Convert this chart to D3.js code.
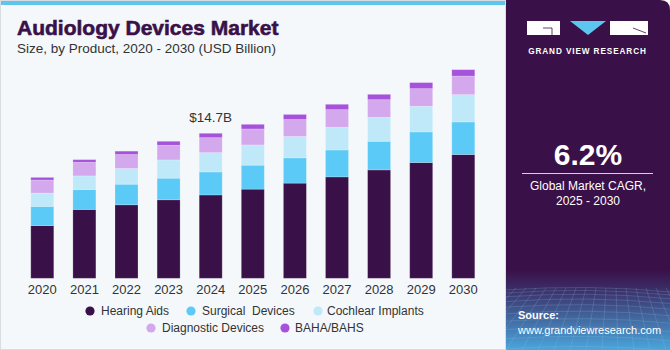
<!DOCTYPE html>
<html>
<head>
<meta charset="utf-8">
<script src="https://cdn.jsdelivr.net/npm/d3@7"></script>
<style>
  html, body { margin: 0; padding: 0; background: #fff; }
  svg { display: block; font-family: "Liberation Sans", Arial, sans-serif; }
</style>
</head>
<body>
<div id="chart"></div>
<script>
// data (USD Billion)
var years = ["2020", "2021", "2022", "2023", "2024", "2025", "2026", "2027", "2028", "2029", "2030"];
var hearingAids = [5.34, 6.98, 7.45, 7.96, 8.45, 9.04, 9.65, 10.28, 10.99, 11.74, 12.55];
var surgicalDevices = [1.95, 2.02, 2.09, 2.19, 2.33, 2.43, 2.56, 2.73, 2.90, 3.10, 3.30];
var cochlearImplants = [1.35, 1.38, 1.59, 1.85, 1.96, 2.05, 2.17, 2.30, 2.43, 2.60, 2.77];
var diagnosticDevices = [1.32, 1.38, 1.42, 1.49, 1.52, 1.62, 1.72, 1.79, 1.79, 1.79, 1.88];
var bahaBahs = [0.27, 0.27, 0.34, 0.40, 0.44, 0.47, 0.51, 0.54, 0.54, 0.61, 0.65];
var seriesNames = ["Hearing Aids", "Surgical  Devices", "Cochlear Implants", "Diagnostic Devices", "BAHA/BAHS"];
var seriesColors = ["#3a1048", "#5ccaf6", "#bfe9f9", "#d4a8ec", "#a652da"];
var annotation = {year: "2024", label: "$14.7B"};

var W = 670, H = 350;
var svg = d3.select("#chart").append("svg")
    .attr("width", W)
    .attr("height", H);

// panel backgrounds
svg.append("rect").attr("x", 0).attr("y", 0).attr("width", 506).attr("height", H).attr("fill", "#f4f8fb");
svg.append("rect").attr("x", 0).attr("y", 0).attr("width", 506).attr("height", 5).attr("fill", "#5cc6ee");
svg.append("rect").attr("x", 0.5).attr("y", 0.5).attr("width", 505).attr("height", H - 1)
    .attr("fill", "none").attr("stroke", "#d9dde2").attr("stroke-width", 1);

// right side panel
var defs = svg.append("defs");
var grad = defs.append("linearGradient").attr("id", "sideGrad")
    .attr("x1", 0).attr("y1", 0).attr("x2", 0).attr("y2", 1);
grad.append("stop").attr("offset", "0%").attr("stop-color", "#3a1048");
grad.append("stop").attr("offset", "77%").attr("stop-color", "#3a1048");
grad.append("stop").attr("offset", "82%").attr("stop-color", "#3b2a63");
grad.append("stop").attr("offset", "100%").attr("stop-color", "#4aa6dc");
var clip = defs.append("clipPath").attr("id", "sideClip");
clip.append("path").attr("d", "M506,0 H660 Q670,0 670,10 V350 H506 Z");

var side = svg.append("g").attr("clip-path", "url(#sideClip)");
side.append("rect").attr("x", 506).attr("y", 0).attr("width", 164).attr("height", H).attr("fill", "url(#sideGrad)");

// grid texture at bottom of side panel
var grid = side.append("g").attr("stroke", "#8fc6ee").attr("stroke-opacity", 0.35).attr("stroke-width", 0.6).attr("fill", "none");
d3.range(0, 12).forEach(function (i) {
    var y = 290 + i * i * 0.45 + i * 2.5;
    grid.append("path").attr("d", "M506," + y + " Q588," + (y - 6) + " 670," + (y + 2));
});
d3.range(-8, 20).forEach(function (i) {
    var xTop = 506 + i * 10;
    grid.append("path").attr("d", "M" + xTop + ",288 L" + (506 + (i - 4) * 16) + ",350");
});

// logo
var logo = svg.append("g");
logo.append("rect").attr("x", 527).attr("y", 21).attr("width", 33).attr("height", 14).attr("fill", "#fff");
logo.append("path").attr("d", "M543,28 H552 V35").attr("stroke", "#3a1048").attr("stroke-width", 0.8).attr("fill", "none");
logo.append("path").attr("d", "M570,21 L606,21 L588,35 Z").attr("fill", "#5cc6ee");
logo.append("rect").attr("x", 610).attr("y", 21).attr("width", 38).attr("height", 14).attr("fill", "#fff");
logo.append("path").attr("d", "M633,28 L646,33").attr("stroke", "#3a1048").attr("stroke-width", 0.8);
logo.append("text").attr("x", 587.5).attr("y", 54).attr("text-anchor", "middle")
    .attr("fill", "#fff").attr("font-size", 8.2).attr("font-weight", "bold")
    .attr("letter-spacing", 0.9).text("GRAND VIEW RESEARCH");

// CAGR block
svg.append("text").attr("x", 588).attr("y", 165).attr("text-anchor", "middle")
    .attr("fill", "#fff").attr("font-size", 30).attr("font-weight", "bold").text("6.2%");
svg.append("line").attr("x1", 522).attr("x2", 653).attr("y1", 173.5).attr("y2", 173.5)
    .attr("stroke", "#d8cfe0").attr("stroke-width", 1);
svg.append("text").attr("x", 588).attr("y", 190).attr("text-anchor", "middle")
    .attr("fill", "#fff").attr("font-size", 12).text("Global Market CAGR,");
svg.append("text").attr("x", 588).attr("y", 205).attr("text-anchor", "middle")
    .attr("fill", "#fff").attr("font-size", 12).text("2025 - 2030");

// source
svg.append("text").attr("x", 518).attr("y", 319).attr("fill", "#fff")
    .attr("font-size", 11).attr("font-weight", "bold").text("Source:");
svg.append("text").attr("x", 518).attr("y", 334).attr("fill", "#fff")
    .attr("font-size", 11).text("www.grandviewresearch.com");

// titles
svg.append("text").attr("x", 17).attr("y", 35).attr("fill", "#3a1048")
    .attr("stroke", "#3a1048").attr("stroke-width", 0.6)
    .attr("font-size", 21).attr("font-weight", "bold").text("Audiology Devices Market");
svg.append("text").attr("x", 17).attr("y", 53).attr("fill", "#333")
    .attr("font-size", 13.5).text("Size, by Product, 2020 - 2030 (USD Billion)");

// scales
var x = d3.scaleBand()
    .domain(years)
    .range([30.8, 474.8])
    .paddingInner(0.454)
    .paddingOuter(0);

var y = d3.scaleLinear()
    .domain([0, 20])
    .range([278.3, 278.3 - 20 * 9.864]);

var seriesData = [hearingAids, surgicalDevices, cochlearImplants, diagnosticDevices, bahaBahs];
var table = years.map(function (yr, i) {
    var row = {year: yr};
    seriesNames.forEach(function (name, s) { row[name] = seriesData[s][i]; });
    return row;
});

var stack = d3.stack().keys(seriesNames);
var stacked = stack(table);

var plot = svg.append("g");
plot.selectAll("g.layer")
    .data(stacked)
    .enter().append("g")
    .attr("class", "layer")
    .attr("fill", function (d, i) { return seriesColors[i]; })
    .selectAll("rect")
    .data(function (d) { return d; })
    .enter().append("rect")
    .attr("x", function (d) { return x(d.data.year); })
    .attr("width", x.bandwidth())
    .attr("y", function (d) { return y(d[1]); })
    .attr("height", function (d) { return y(d[0]) - y(d[1]); })
    .attr("stroke", "#ffffff")
    .attr("stroke-opacity", 0.25)
    .attr("stroke-width", 0.8);

// x axis labels
var xAxis = d3.axisBottom(x).tickSize(0).tickPadding(6);
var ax = svg.append("g").attr("transform", "translate(0," + 278.3 + ")").call(xAxis);
ax.select(".domain").remove();
ax.selectAll("text").attr("font-size", 13).attr("fill", "#333")
    .attr("font-family", "Liberation Sans, Arial, sans-serif");

// annotation
var annIdx = years.indexOf(annotation.year);
var annTotal = d3.sum(seriesData, function (s) { return s[annIdx]; });
svg.append("text")
    .attr("x", x(annotation.year) + x.bandwidth() / 2)
    .attr("y", y(annTotal) - 11)
    .attr("text-anchor", "middle")
    .attr("fill", "#333").attr("font-size", 13.5)
    .text(annotation.label);

// legend
var legendPos = [
    {cx: 90, cy: 311, tx: 101},
    {cx: 191, cy: 311, tx: 202},
    {cx: 318, cy: 311, tx: 327},
    {cx: 151, cy: 328, tx: 162},
    {cx: 285, cy: 328, tx: 295}
];
var legend = svg.append("g");
seriesNames.forEach(function (name, i) {
    var p = legendPos[i];
    legend.append("circle").attr("cx", p.cx).attr("cy", p.cy).attr("r", 4.6).attr("fill", seriesColors[i]);
    legend.append("text").attr("x", p.tx).attr("y", p.cy + 4.3).attr("fill", "#333")
        .attr("font-size", 12).attr("xml:space", "preserve").style("white-space", "pre").text(name);
});
</script>
</body>
</html>
